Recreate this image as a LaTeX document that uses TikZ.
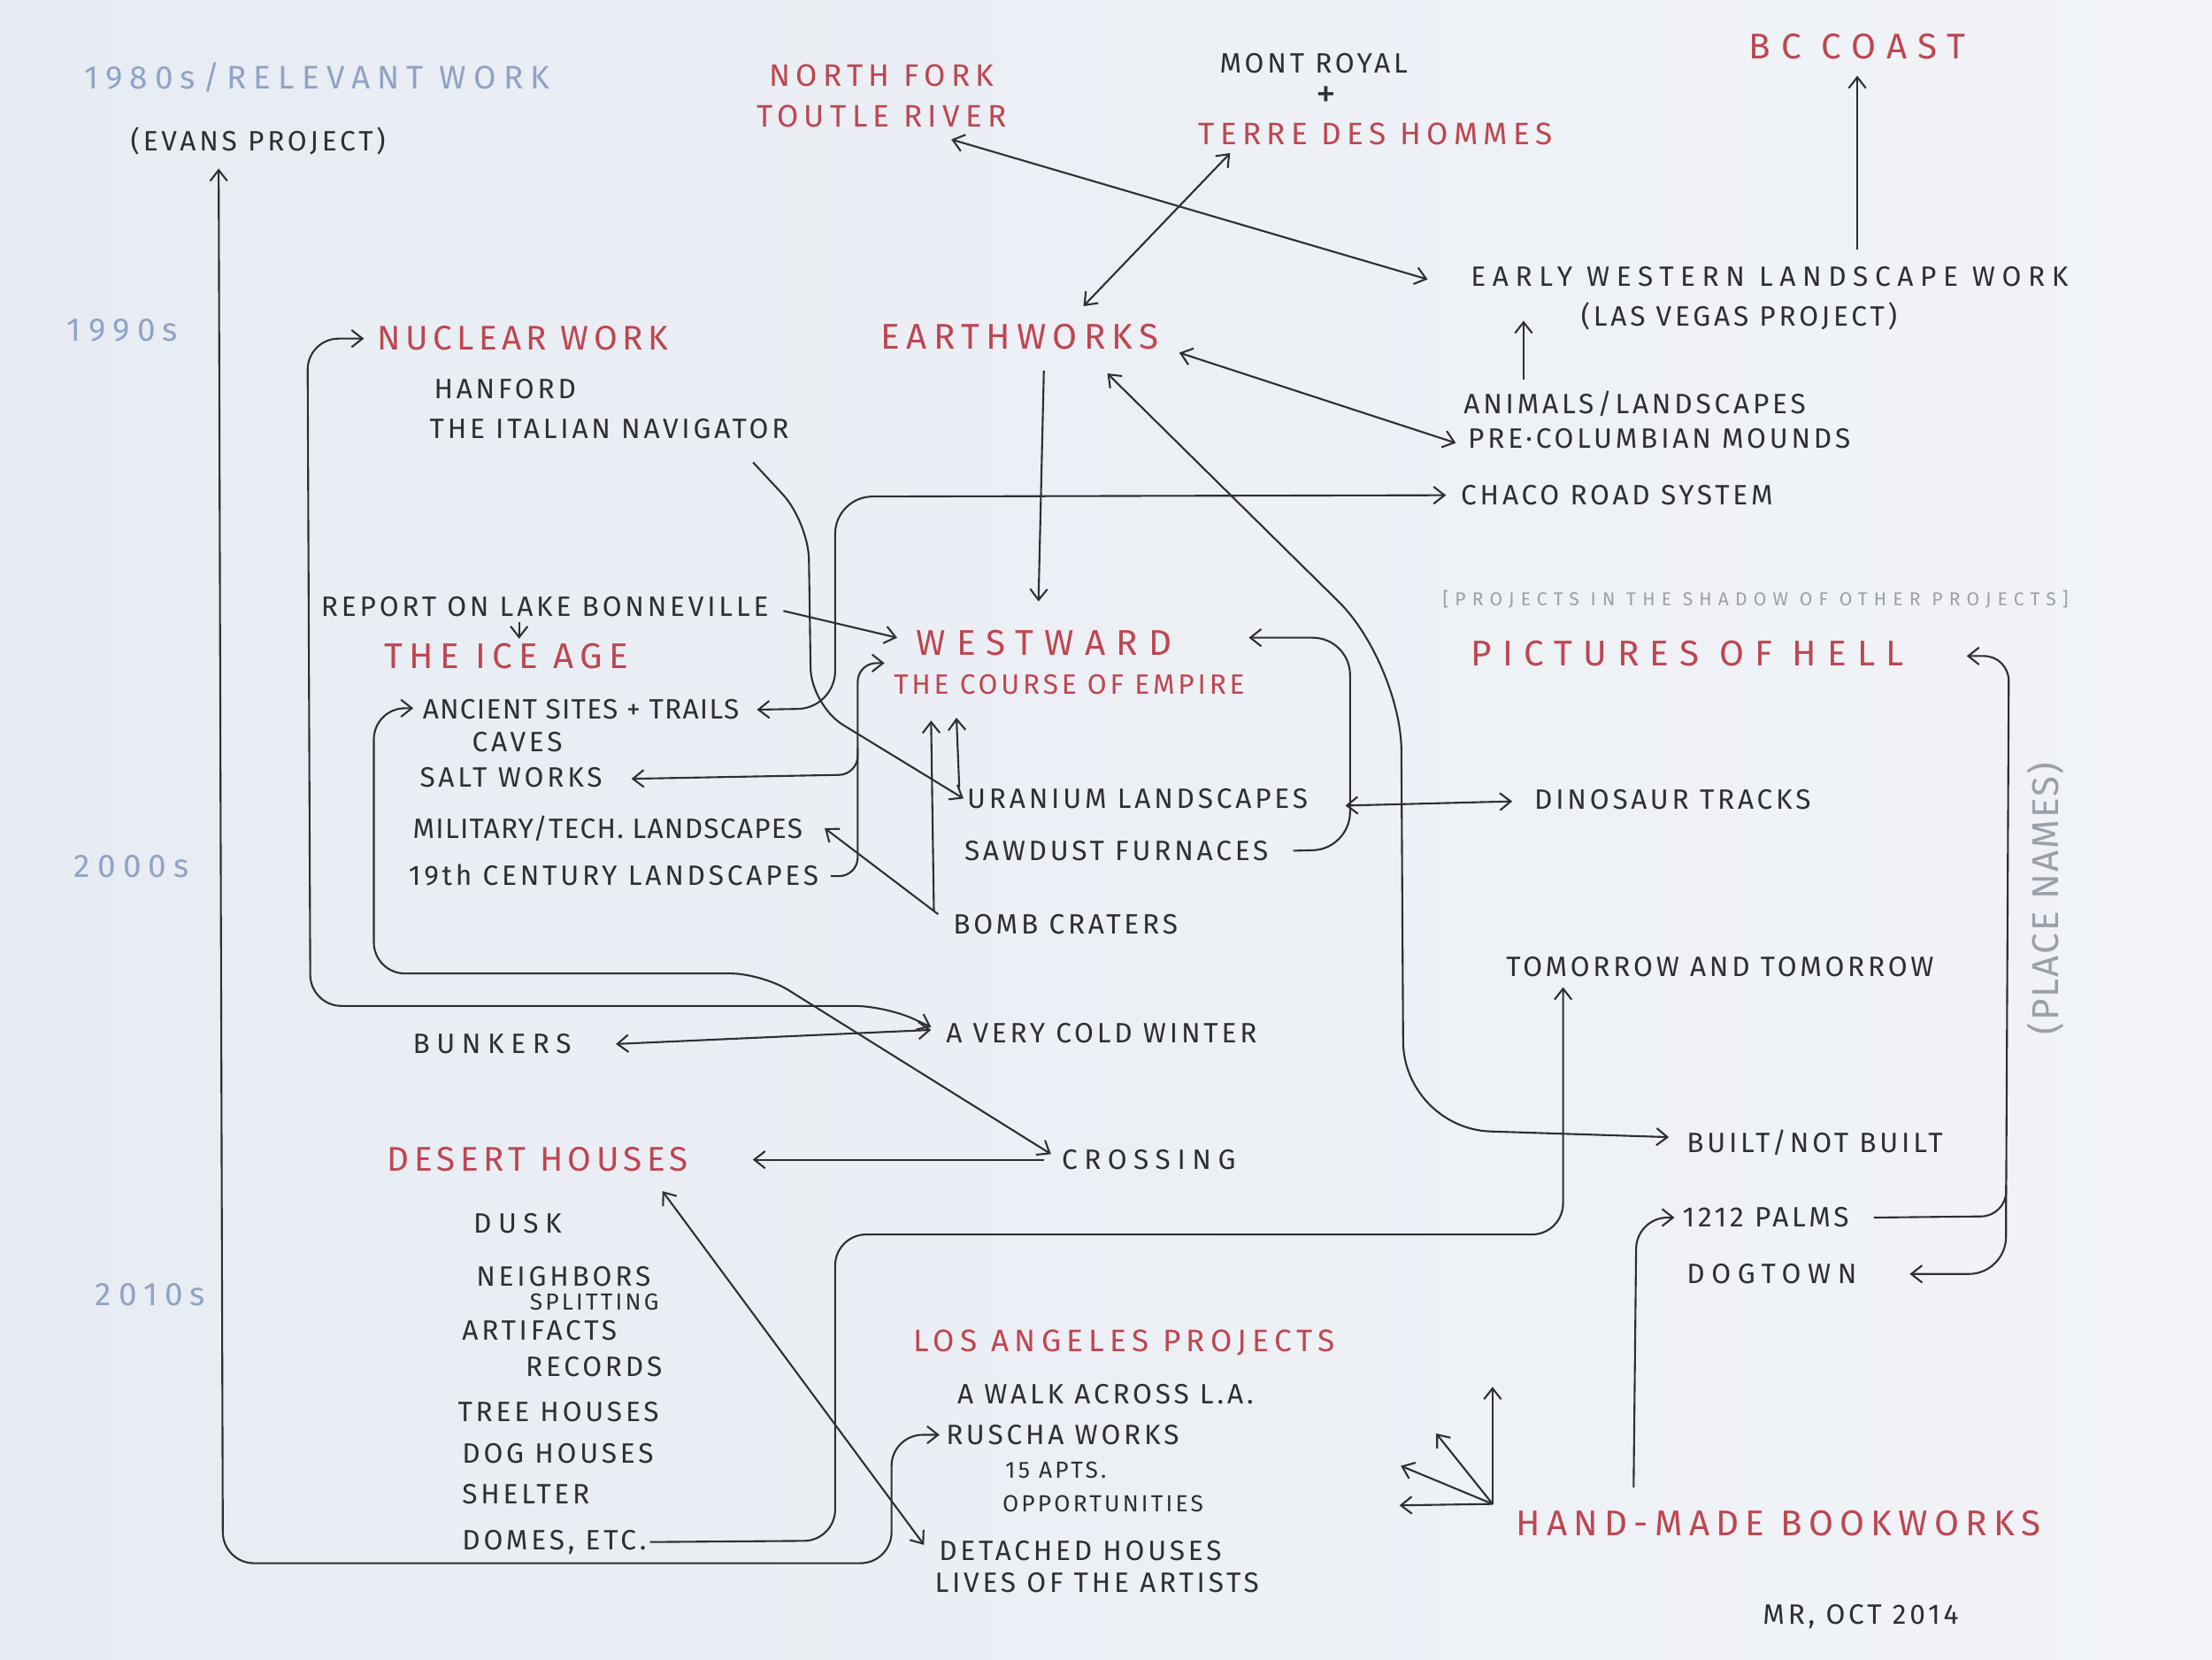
\documentclass[tikz,border=0pt]{standalone}
\usepackage{fontspec}
\setmainfont{Fira Sans}
\usepackage{tikz}
\usetikzlibrary{arrows.meta,positioning}
\definecolor{pencil}{HTML}{2E2F33}
\definecolor{redpencil}{HTML}{BE4650}
\definecolor{bluepencil}{HTML}{8EA3C6}
\definecolor{greypencil}{HTML}{9A9FA8}
\definecolor{paperL}{HTML}{E7ECF3}
\definecolor{paperR}{HTML}{F1F3F7}
\newcommand{\handtype}[2]{\fontsize{#1}{#1}\selectfont\addfontfeature{LetterSpace=#2}}

\tikzset{
  every node/.style={inner sep=1pt, anchor=west},
  item/.style={text=pencil, font={\handtype{9}{12}}},
  itemwide/.style={text=pencil, font={\handtype{9}{24}}},
  tight/.style={text=pencil, font={\handtype{9}{4}}},
  small/.style={text=pencil, font={\handtype{7.5}{12}}},
  redsub/.style={text=redpencil, font={\handtype{9}{12}}},
  titlesm/.style={text=redpencil, font={\handtype{10}{18}}},
  title/.style={text=redpencil, font={\handtype{11}{14}}},
  titlebig/.style={text=redpencil, font={\handtype{11.5}{18}}},
  titlewide/.style={text=redpencil, font={\handtype{11.5}{30}}},
  decade/.style={text=bluepencil, font={\handtype{10.5}{22}}},
  note/.style={text=greypencil, font={\handtype{6}{34}}},
  link/.style={draw=pencil, line width=0.6pt, ->},
  both/.style={draw=pencil, line width=0.6pt, <->}
}

\begin{document}
\begin{tikzpicture}[x=0.015944cm, y=-0.015944cm,
  >={Straight Barb[length=3.5pt,width=5.5pt]}]
  % paper
  \fill[left color=paperL, right color=paperR] (0,0) rectangle (1568,1176);
  \useasboundingbox (0,0) rectangle (1568,1176);

  % decades down the left margin
  \node[decade] (d80) at (57,55) {1980s/RELEVANT WORK};
  \node[decade] (d90) at (45,234) {1990s};
  \node[decade] (d00) at (50,614) {2000s};
  \node[decade] (d10) at (65,918) {2010s};

  % top row
  \node[item] (evans) at (90,100) {(EVANS PROJECT)};
  \node[titlesm, anchor=center, align=center] (northfork) at (625,68) {NORTH FORK\\[3pt]TOUTLE RIVER};
  \node[item] (montroyal) at (862,45) {MONT ROYAL};
  \node[text=pencil, font={\handtype{13}{0}}, anchor=center] (plus) at (940,69) {+};
  \node[titlesm] (terre) at (847,95) {TERRE DES HOMMES};
  \node[titlewide] (bc) at (1237,33) {BC COAST};
  \node[itemwide] (early) at (1040,196) {EARLY WESTERN LANDSCAPE WORK};
  \node[item] (vegas) at (1118,224) {(LAS VEGAS PROJECT)};
  \node[item] (animals) at (1035,286) {ANIMALS/LANDSCAPES};
  \node[item] (mounds) at (1038,311) {PRE·COLUMBIAN MOUNDS};
  \node[item] (chaco) at (1033,351) {CHACO ROAD SYSTEM};

  % 1990s
  \node[title] (nuclear) at (265,240) {NUCLEAR WORK};
  \node[item] (hanford) at (305,276) {HANFORD};
  \node[item] (italian) at (302,304) {THE ITALIAN NAVIGATOR};
  \node[titlebig] (earthworks) at (622,239) {EARTHWORKS};

  % ice age and westward
  \node[item] (bonneville) at (225,430) {REPORT ON LAKE BONNEVILLE};
  \node[titlebig] (iceage) at (270,465) {THE ICE AGE};
  \node[tight] (ancient) at (297,503) {ANCIENT SITES + TRAILS};
  \node[item] (caves) at (332,526) {CAVES};
  \node[item] (salt) at (295,551) {SALT WORKS};
  \node[tight] (military) at (290,587) {MILITARY/TECH. LANDSCAPES};
  \node[item] (century) at (287,620) {19th CENTURY LANDSCAPES};
  \node[titlewide] (westward) at (647,456) {WESTWARD};
  \node[redsub] (course) at (631,485) {THE COURSE OF EMPIRE};
  \node[item] (uranium) at (683,566) {URANIUM LANDSCAPES};
  \node[item] (sawdust) at (681,603) {SAWDUST FURNACES};
  \node[item] (bomb) at (673,655) {BOMB CRATERS};
  \node[item] (dinosaur) at (1085,567) {DINOSAUR TRACKS};
  \node[note] (shadow) at (1020,425) {[PROJECTS IN THE SHADOW OF OTHER PROJECTS]};
  \node[titlewide] (hell) at (1040,463) {PICTURES OF HELL};
  \node[item] (tomorrow) at (1065,685) {TOMORROW AND TOMORROW};
  \node[text=greypencil, font={\handtype{12}{5}}, anchor=center, rotate=90] (places) at (1450,637) {(PLACE NAMES)};

  % 2000s
  \node[item] (winter) at (668,732) {A VERY COLD WINTER};
  \node[itemwide] (bunkers) at (290,740) {BUNKERS};
  \node[itemwide] (crossing) at (750,822) {CROSSING};
  \node[title] (desert) at (272,822) {DESERT HOUSES};
  \node[itemwide] (dusk) at (333,867) {DUSK};
  \node[item] (neighbors) at (335,905) {NEIGHBORS};
  \node[small] (splitting) at (373,923) {SPLITTING};
  \node[item] (artifacts) at (325,943) {ARTIFACTS};
  \node[item] (records) at (370,969) {RECORDS};
  \node[item] (tree) at (322,1001) {TREE HOUSES};
  \node[item] (doghouses) at (325,1030) {DOG HOUSES};
  \node[item] (shelter) at (325,1059) {SHELTER};
  \node[item] (domes) at (325,1093) {DOMES, ETC.};
  \node[item] (built) at (1193,810) {BUILT/NOT BUILT};
  \node[item] (palms) at (1190,863) {1212 PALMS};
  \node[itemwide] (dogtown) at (1193,903) {DOGTOWN};

  % 2010s
  \node[titlesm] (la) at (645,952) {LOS ANGELES PROJECTS};
  \node[item] (walk) at (676,988) {A WALK ACROSS L.A.};
  \node[item] (ruscha) at (668,1017) {RUSCHA WORKS};
  \node[small] (apts) at (710,1042) {15 APTS.};
  \node[small] (opps) at (708,1066) {OPPORTUNITIES};
  \node[item] (detached) at (663,1099) {DETACHED HOUSES};
  \node[item] (lives) at (660,1122) {LIVES OF THE ARTISTS};
  \node[titlebig] (bookworks) at (1072,1080) {HAND-MADE BOOKWORKS};
  \node[item] (signature) at (1247,1146) {MR, OCT 2014};

  % long runs
  \draw[both, rounded corners=10pt] ([shift={(65,7)}]evans.south west) -- (158,1108) -- (632,1108) -- (632,1017) -- ([shift={(-2,0)}]ruscha.west);
  \draw[link, rounded corners=10pt] (domes.east) -- (592,1092) -- (592,875) -- (1108,875) -- ([shift={(43,5)}]tomorrow.south west);
  \draw[both, rounded corners=10pt] ([shift={(-7,0)}]nuclear.west) -- (218,240) -- (220,713) -- (628,713) -- ([shift={(-8,-4)}]winter.west);
  \draw[both, rounded corners=10pt] ([shift={(-4,-1)}]ancient.west) -- (265,502) -- (265,690) -- (540,690) -- ([shift={(-5,-4)}]crossing.west);
  \draw[both, rounded corners=12pt] ([shift={(10,0)}]ancient.east) -- (592,502) -- (592,352) -- ([shift={(-8,0)}]chaco.west);
  \draw[link, rounded corners=12pt] ([shift={(-28,14)}]italian.south east) -- (573,370) -- (575,500) -- (uranium.west);

  % top links
  \draw[both] ([shift={(-42,6)}]northfork.south east) -- ([shift={(-28,2)}]early.west);
  \draw[both] ([shift={(146,-22)}]earthworks.west) -- ([shift={(25,3)}]terre.south west);
  \draw[link] ([shift={(0,132)}]bc.south) -- ([shift={(0,9)}]bc.south);
  \draw[link] ([shift={(45,-5)}]animals.north west) -- ([shift={(45,-47)}]animals.north west);
  \draw[both] ([shift={(12,11)}]earthworks.east) -- ([shift={(-6,3)}]mounds.west);
  \draw[link] ([shift={(17,12)}]earthworks.south) -- ([shift={(-4,-18)}]westward.north);
  \draw[both, rounded corners=28pt] ([shift={(62,14)}]earthworks.south) -- (993,470) -- (995,800) -- ([shift={(-10,-4)}]built.west);

  % around westward
  \draw[link] ([shift={(8,3)}]bonneville.east) -- ([shift={(-11,-4)}]westward.west);
  \draw[link] ([shift={(143,1)}]bonneville.south west) -- ++(0,12);
  \coordinate (fork) at (608,530);
  \draw[link, rounded corners=6pt] ([shift={(6,1)}]century.east) -- (608,621) -- (fork) -- (608,470) -- ([shift={(-4,-15)}]course.west);
  \draw[link, rounded corners=6pt] (fork) -- (608,549) -- ([shift={(18,1)}]salt.east);
  \draw[link] ([shift={(-8,-7)}]bomb.west) -- ([shift={(13,0)}]military.east);
  \draw[link] ([shift={(-11,0)}]bomb.north west) -- ([shift={(29,16)}]course.south west);
  \draw[link] ([shift={(-3,2)}]uranium.north west) -- ([shift={(47,14)}]course.south west);
  \draw[link, rounded corners=12pt] ([shift={(15,0)}]sawdust.east) -- (957,602) -- (957,452) -- ([shift={(52,-4)}]westward.east);
  \draw[both] ([shift={(24,5)}]uranium.east) -- ([shift={(-13,1)}]dinosaur.west);

  % 2000s links
  \draw[both] ([shift={(29,0)}]bunkers.east) -- ([shift={(-8,-2)}]winter.west);
  \draw[link] ([shift={(-10,0)}]crossing.west) -- ([shift={(43,0)}]desert.east);
  \draw[both] ([shift={(-21,11)}]desert.south east) -- ([shift={(-8,-4)}]detached.west);

  % bookworks
  \coordinate (fan) at ([shift={(-14,-14)}]bookworks.west);
  \foreach \dx/\dy in {0/-83,-40/-50,-65/-27,-66/1}
    \draw[link] (fan) -- ++(\dx,\dy);
  \draw[link, rounded corners=10pt] ([shift={(86,-14)}]bookworks.north west) -- (1160,863) -- ([shift={(-3,0)}]palms.west);
  \coordinate (palmsbend) at (1422,840);
  \draw[link, rounded corners=8pt] ([shift={(15,0)}]palms.east) -- (1422,862) -- (1424,465) -- ([shift={(42,2)}]hell.east);
  \draw[link, rounded corners=12pt] (palmsbend) -- (1422,903) -- ([shift={(35,0)}]dogtown.east);
\end{tikzpicture}
\end{document}
